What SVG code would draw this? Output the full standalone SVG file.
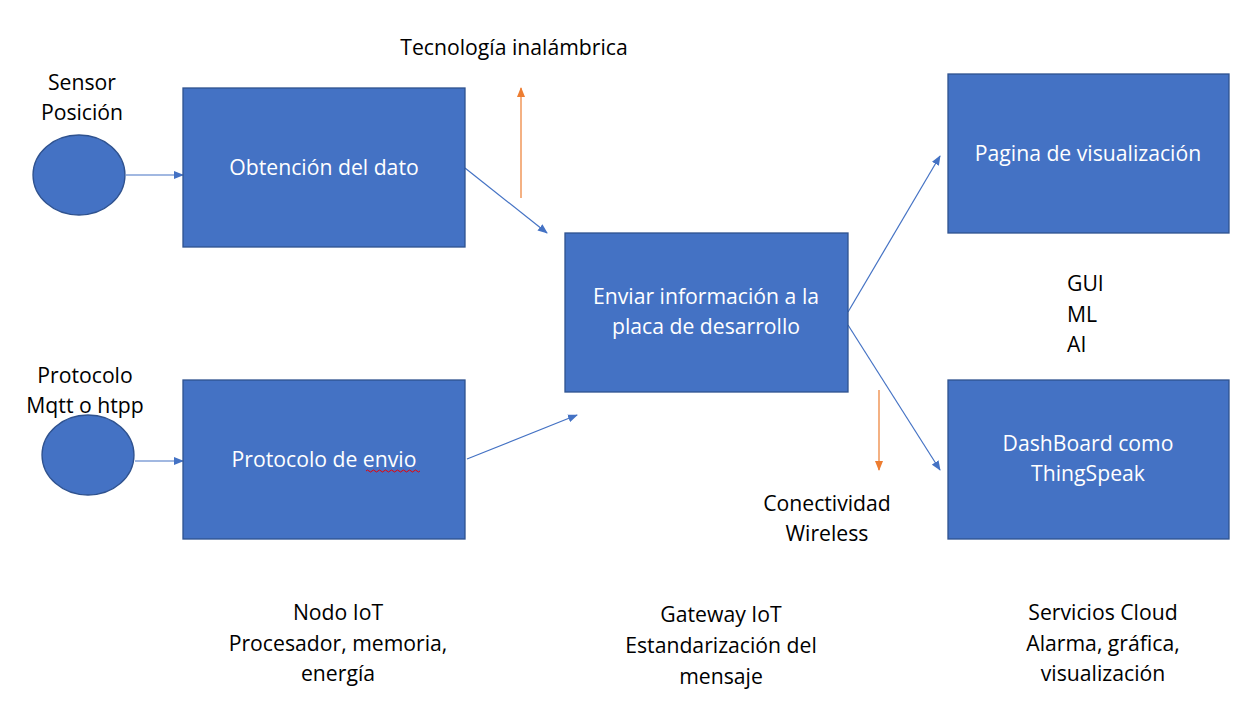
<svg xmlns="http://www.w3.org/2000/svg" width="1255" height="707" viewBox="0 0 1255 707">
<style>
.box{fill:#4472C4;stroke:#2F528F;stroke-width:1.3}
.t{font-family:"Open Sans","Liberation Sans",sans-serif;font-size:21.2px;text-anchor:middle}
.s{text-anchor:start}
.w{fill:#fff}
.k{fill:#000}
.c{stroke:#4472C4;stroke-width:1.2;fill:none}
.o{stroke:#ED7D31;stroke-width:1.2;fill:none}
</style>
<defs>
<marker id="ab" markerWidth="10" markerHeight="8" refX="9" refY="4" orient="auto" markerUnits="userSpaceOnUse"><path d="M0,0 L10,4 L0,8 z" fill="#4472C4"/></marker>
<marker id="ao" markerWidth="10" markerHeight="8" refX="9" refY="4" orient="auto" markerUnits="userSpaceOnUse"><path d="M0,0 L10,4 L0,8 z" fill="#ED7D31"/></marker>
</defs>
<rect width="1255" height="707" fill="#fff"/>
<g id="connectors">
<line class="c" x1="126" y1="175" x2="183" y2="175" marker-end="url(#ab)"/>
<line class="c" x1="135" y1="461" x2="183" y2="461" marker-end="url(#ab)"/>
<line class="c" x1="465" y1="168" x2="547" y2="233" marker-end="url(#ab)"/>
<line class="c" x1="467" y1="459" x2="577" y2="415" marker-end="url(#ab)"/>
<line class="c" x1="848" y1="312" x2="940" y2="156" marker-end="url(#ab)"/>
<line class="c" x1="848" y1="325" x2="940" y2="470" marker-end="url(#ab)"/>
<line class="o" x1="521" y1="198" x2="521" y2="88" marker-end="url(#ao)"/>
<line class="o" x1="879" y1="390" x2="879" y2="470" marker-end="url(#ao)"/>
</g>
<g id="sensor"><ellipse class="box" cx="79" cy="175" rx="46" ry="40"/><text class="t k" x="82" y="90">Sensor</text><text class="t k" x="82" y="120">Posición</text></g>
<g id="protocolo"><ellipse class="box" cx="88" cy="455" rx="46" ry="40"/><text class="t k" x="85" y="383">Protocolo</text><text class="t k" x="85" y="413">Mqtt o htpp</text></g>
<g id="obtencion"><rect class="box" x="183" y="88" width="282" height="159"/><text class="t w" x="324" y="175">Obtención del dato</text></g>
<g id="envio"><rect class="box" x="183" y="380" width="282" height="159"/><text class="t w" x="324" y="467">Protocolo de envio</text><path d="M366,471 q1.5,-2 3,0 t3,0 t3,0 t3,0 t3,0 t3,0 t3,0 t3,0 t3,0 t3,0 t3,0 t3,0 t3,0 t3,0 t3,0 t3,0 t3,0 t3,0" fill="none" stroke="#E00" stroke-width="1"/></g>
<g id="enviar"><rect class="box" x="565" y="233" width="283" height="159"/><text class="t w" x="706" y="304">Enviar información a la</text><text class="t w" x="706" y="334">placa de desarrollo</text></g>
<g id="pagina"><rect class="box" x="948" y="74" width="281" height="159"/><text class="t w" x="1088" y="161">Pagina de visualización</text></g>
<g id="dashboard"><rect class="box" x="948" y="380" width="281" height="159"/><text class="t w" x="1088" y="451">DashBoard como</text><text class="t w" x="1088" y="481">ThingSpeak</text></g>
<g id="tecnologia"><text class="t k" x="514" y="55">Tecnología inalámbrica</text></g>
<g id="gui"><text class="t k s" x="1067" y="291">GUI</text><text class="t k s" x="1067" y="322">ML</text><text class="t k s" x="1067" y="352">AI</text></g>
<g id="conectividad"><text class="t k" x="827" y="511">Conectividad</text><text class="t k" x="827" y="541">Wireless</text></g>
<g id="nodo"><text class="t k" x="338" y="620">Nodo IoT</text><text class="t k" x="338" y="651">Procesador, memoria,</text><text class="t k" x="338" y="681">energía</text></g>
<g id="gateway"><text class="t k" x="721" y="622">Gateway IoT</text><text class="t k" x="721" y="653">Estandarización del</text><text class="t k" x="721" y="684">mensaje</text></g>
<g id="cloud"><text class="t k" x="1103" y="620">Servicios Cloud</text><text class="t k" x="1103" y="651">Alarma, gráfica,</text><text class="t k" x="1103" y="681">visualización</text></g>
</svg>
